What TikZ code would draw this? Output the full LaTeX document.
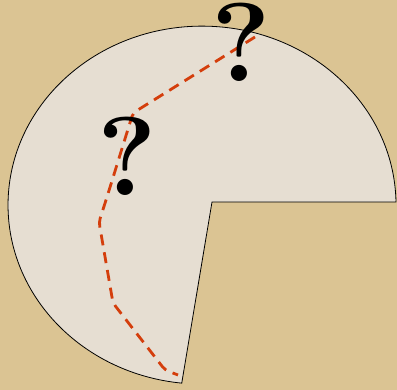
\documentclass[tikz,border=0pt]{standalone}
\usetikzlibrary{positioning}
\definecolor{desk}{RGB}{219,196,147}
\definecolor{paper}{RGB}{230,222,210}
\definecolor{trail}{RGB}{212,62,12}
\tikzset{
  sheet/.style  = {draw=black, line width=0.8pt, fill=paper},
  route/.style  = {draw=trail, line width=2.8pt, dash pattern=on 11pt off 7pt,
                   rounded corners=4pt},
  % big question marks sitting on the route
  quest/.style  = {inner sep=0pt, font=\fontsize{112}{112}\selectfont\bfseries},
}
\begin{document}
\begin{tikzpicture}[x=1pt, y=1pt]

    \fill[desk] (0,0) rectangle (397,390);
    \useasboundingbox (0,0) rectangle (397,390);

    % the cut-out disc
    \path[sheet] (212,188) -- (396,188)
        arc[start angle=1, end angle=264, x radius=194, y radius=179] -- cycle;

    \draw[route] (255,353) -- (133,277) -- (107,193) -- (99,168)
        -- (113,87) -- (165,20) -- (178,15);

    \node[quest] (q1) at (127,234) {?};
    \node[quest] (q2) at (241,348) {?};
  \end{tikzpicture}
\end{document}
